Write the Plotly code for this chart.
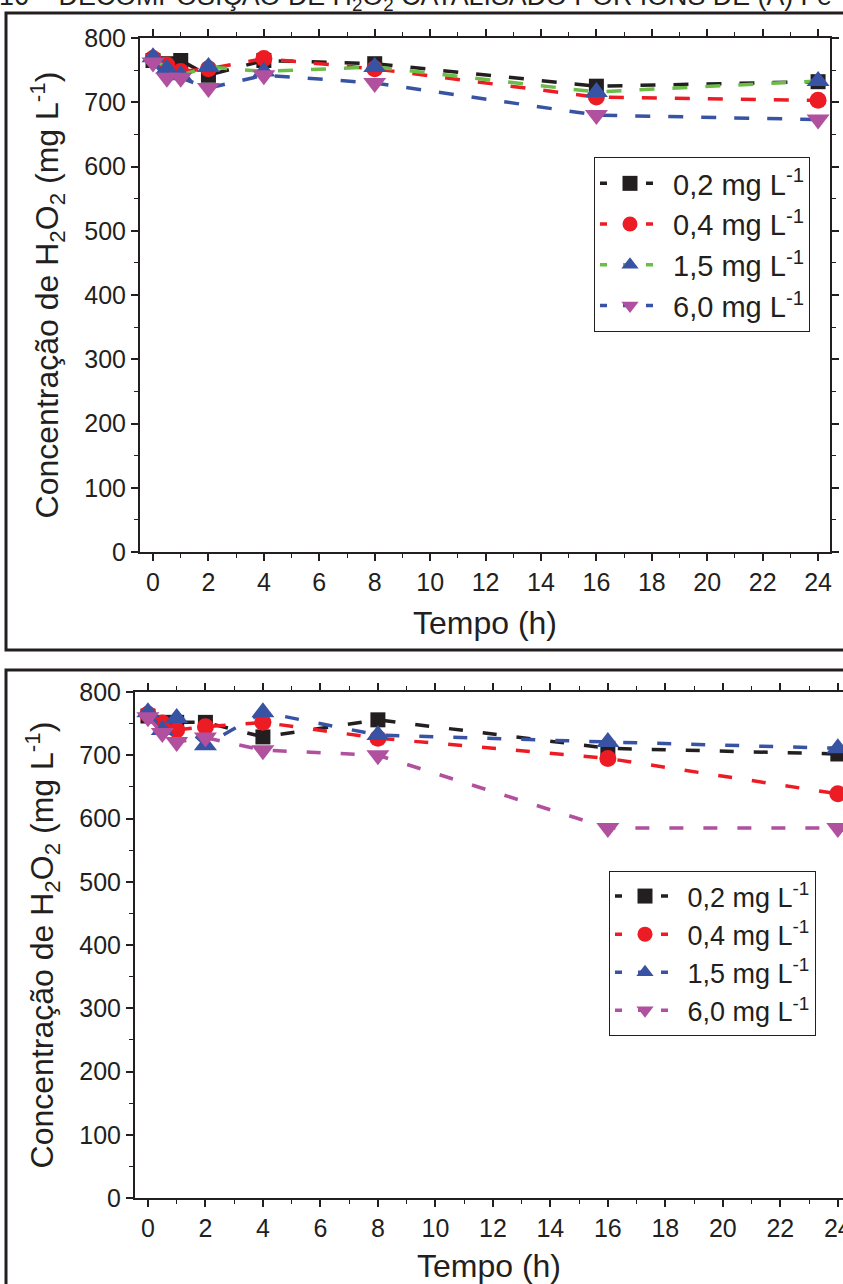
import plotly.graph_objects as go

W, H = 843, 1284

times = [0, 0.5, 1, 2, 4, 8, 16, 24]
labels = ["0,2 mg L<sup>-1</sup>", "0,4 mg L<sup>-1</sup>", "1,5 mg L<sup>-1</sup>", "6,0 mg L<sup>-1</sup>"]

# Panel A (top)
a_02 = [765, 760, 765, 742, 765, 760, 725, 732]
a_04 = [768, 758, 748, 752, 768, 752, 708, 703]
a_15 = [770, 752, 742, 755, 748, 755, 716, 733]
a_60 = [762, 738, 738, 722, 742, 730, 680, 673]

# Panel B (bottom)
b_02 = [762, 752, 752, 752, 729, 756, 711, 702]
b_04 = [765, 751, 740, 745, 752, 727, 695, 639]
b_15 = [768, 740, 759, 716, 768, 732, 721, 711]
b_60 = [760, 735, 721, 728, 708, 700, 585, 585]

x_ticks = [0, 2, 4, 6, 8, 10, 12, 14, 16, 18, 20, 22, 24]
y_ticks = [0, 100, 200, 300, 400, 500, 600, 700, 800]

marker_symbols = ["square", "circle", "triangle-up", "triangle-down"]
marker_sizes = [15, 17, 20, 20]
marker_colors = ["#231f20", "#ed1c24", "#3953a4", "#b0509f"]
line_colors_a = ["#231f20", "#ed1c24", "#6abd45", "#3953a4"]
line_colors_b = ["#231f20", "#ed1c24", "#3953a4", "#b0509f"]

FONT = "Liberation Sans"

fig = go.Figure()


def add_panel(series, lcolors, xa, ya, leg, dash):
    for vals, lab, sym, sz, mc, lc in zip(series, labels, marker_symbols,
                                           marker_sizes, marker_colors, lcolors):
        fig.add_trace(go.Scatter(x=times, y=vals, name=lab, mode="lines+markers",
                                 line=dict(color=lc, width=3.5, dash=dash),
                                 marker=dict(symbol=sym, size=sz, color=mc, line=dict(width=0)),
                                 xaxis=xa, yaxis=ya, showlegend=False))
    # legend-only entries (legend sample styled "- marker -")
    for lab, sym, mc, lc in zip(labels, marker_symbols, marker_colors, lcolors):
        fig.add_trace(go.Scatter(x=[None], y=[None], name="\u00a0" + lab, mode="lines+markers",
                                 line=dict(color=lc, width=3.5, dash="7px,16px"),
                                 marker=dict(symbol=sym, size=15, color=mc, line=dict(width=0)),
                                 xaxis=xa, yaxis=ya, legend=leg, showlegend=True))


add_panel([a_02, a_04, a_15, a_60], line_colors_a, "x", "y", "legend", "15px,18px")
add_panel([b_02, b_04, b_15, b_60], line_colors_b, "x2", "y2", "legend2", "14px,20px")


def px_x(p):
    return p / W


def px_y(p):
    return 1 - p / H


axis_common = dict(showline=True, linecolor="#231f20", linewidth=2, mirror="ticks",
                   ticks="outside", ticklen=7, tickwidth=1.5, tickcolor="#231f20",
                   showgrid=False, zeroline=False, automargin=False,
                   ticklabeloverflow="allow",
                   tickfont=dict(family=FONT, size=25, color="#231f20"))

xaxis_common = dict(axis_common, tickvals=x_ticks, ticktext=[str(v) for v in x_ticks],
                    minor=dict(dtick=1, ticks="outside", ticklen=4, tickcolor="#231f20", tickwidth=1))
yaxis_common = dict(axis_common, tickvals=y_ticks, ticktext=[str(v) for v in y_ticks],
                    minor=dict(dtick=50, ticks="outside", ticklen=4, tickcolor="#231f20", tickwidth=1))

ytitle = "Concentração de H<sub>2</sub>O<sub>2</sub> (mg L<sup>-1</sup>)"

fig.update_layout(
    width=W, height=H, margin=dict(l=0, r=0, t=0, b=0, autoexpand=False),
    paper_bgcolor="white", plot_bgcolor="white",
    font=dict(family=FONT, color="#231f20"),
    xaxis=dict(xaxis_common, domain=[px_x(140), px_x(830)], range=[-0.47, 24.43], anchor="y",
               title=dict(text="Tempo (h)", font=dict(family=FONT, size=32), standoff=17)),
    yaxis=dict(yaxis_common, domain=[px_y(552), px_y(38)], range=[0, 800], anchor="x",
               title=dict(text=ytitle, font=dict(family=FONT, size=32), standoff=16)),
    xaxis2=dict(xaxis_common, domain=[px_x(135), 1.0], range=[-0.45, 24.18], anchor="y2",
                title=dict(text="Tempo (h)", font=dict(family=FONT, size=32), standoff=14)),
    yaxis2=dict(yaxis_common, domain=[px_y(1198), px_y(692)], range=[0, 800], anchor="x2",
                title=dict(text=ytitle, font=dict(family=FONT, size=32), standoff=16)),
    legend=dict(x=px_x(594), y=px_y(157), xanchor="left", yanchor="top",
                bgcolor="white", bordercolor="#231f20", borderwidth=1, itemwidth=60,
                font=dict(family=FONT, size=29, color="#231f20"), tracegroupgap=0),
    legend2=dict(x=px_x(609), y=px_y(871), xanchor="left", yanchor="top",
                 bgcolor="white", bordercolor="#231f20", borderwidth=1, itemwidth=60,
                 font=dict(family=FONT, size=27, color="#231f20"), tracegroupgap=0),
)

# Page frames around each panel
fig.add_shape(type="rect", xref="paper", yref="paper",
              x0=px_x(6), x1=px_x(860), y0=px_y(650), y1=px_y(13),
              line=dict(color="#231f20", width=3), fillcolor="rgba(0,0,0,0)", layer="below")
fig.add_shape(type="rect", xref="paper", yref="paper",
              x0=px_x(6), x1=px_x(860), y0=px_y(1300), y1=px_y(670),
              line=dict(color="#231f20", width=3), fillcolor="rgba(0,0,0,0)", layer="below")

# Caption cut off at the top of the page
fig.add_annotation(xref="paper", yref="paper", x=px_x(-3), y=px_y(17),
                   xanchor="left", yanchor="bottom", showarrow=False,
                   text="16 – DECOMPOSIÇÃO DE H<sub>2</sub>O<sub>2</sub> CATALISADO POR IONS DE (A) Fe",
                   font=dict(family=FONT, size=26.8, color="#231f20"))

fig.write_html("out.html")
